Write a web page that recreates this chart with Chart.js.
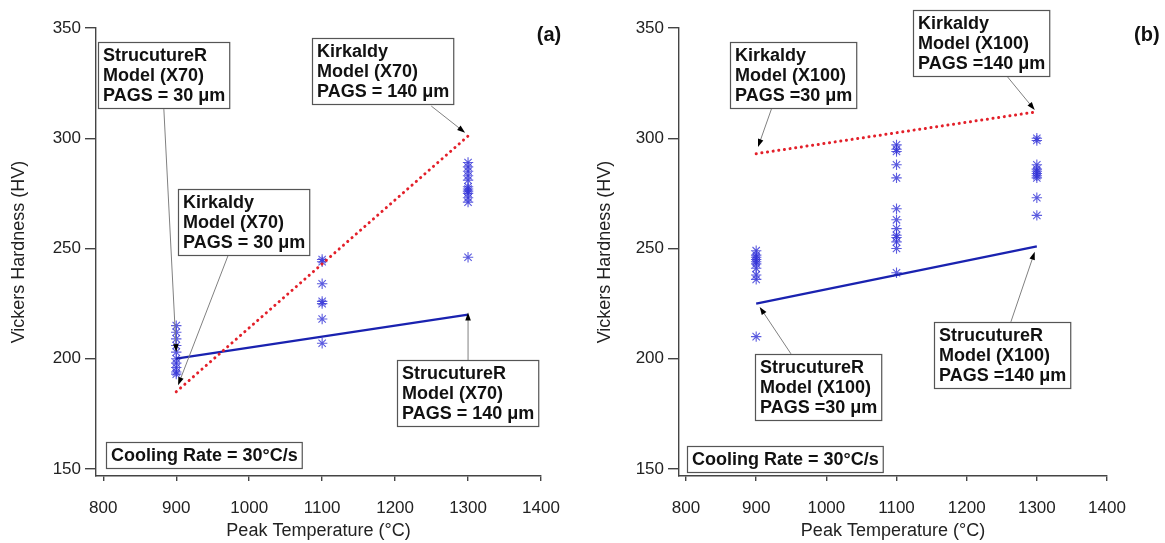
<!DOCTYPE html>
<html>
<head>
<meta charset="utf-8">
<script src="https://cdn.jsdelivr.net/npm/chart.js@4"></script>
<style>
  html, body { margin: 0; padding: 0; background: #fff; }
  .panel { position: absolute; top: 0; height: 543px; }
  #panelA { left: 0; width: 582px; }
  #panelB { left: 582px; width: 583px; }
</style>
</head>
<body>
<div class="panel" id="panelA"><canvas id="chartA"></canvas></div>
<div class="panel" id="panelB"><canvas id="chartB"></canvas></div>
<script>
// measured hardness, one array per peak temperature
const peakTemps = [900, 1100, 1300];
const x70At900 = [215, 212, 209, 206, 203, 200, 198, 196, 194, 193];
const x70At1100 = [245, 244, 234, 226, 225, 218, 207];
const x70At1300 = [289, 287, 285, 283, 281, 278, 277, 276, 275, 273, 271, 246];
const x100At900 = [249, 247, 246, 245, 244, 243, 241, 238, 236, 210];
const x100At1100 = [297, 295, 294, 288, 282, 268, 263, 259, 256, 255, 253, 250, 239];
const x100At1300 = [300, 299, 288, 286, 285, 284, 283, 282, 273, 265];

// model predictions at the two grain sizes
const modelTemps = [900, 1300];
const kirkaldyX70 = [185, 301];
const structureRX70 = [200, 220];
const kirkaldyX100 = [293, 312];
const structureRX100 = [225, 251];

const xTicks = [800, 900, 1000, 1100, 1200, 1300, 1400];
const yTicks = [150, 200, 250, 300, 350];

const FONT = '"Liberation Sans", Arial, sans-serif';

function points(temps, values) {
  return values.map((v, i) => ({ x: temps[i], y: v }));
}
function measured(groups) {
  const pts = [];
  groups.forEach((vals, i) => vals.forEach(v => pts.push({ x: peakTemps[i], y: v })));
  return pts;
}

// text boxes with leader arrows, anchored in data units
const notesA = [
  { lines: ['StrucutureR', 'Model (X70)', 'PAGS = 30 μm'], box: [793, 343.6], from: [883, 313.2], to: [900, 203] },
  { lines: ['Kirkaldy', 'Model (X70)', 'PAGS = 140 μm'], box: [1085.6, 345.5], from: [1249.6, 314.6], to: [1296, 302.5] },
  { lines: ['Kirkaldy', 'Model (X70)', 'PAGS = 30 μm'], box: [902.5, 277], from: [970.8, 246.6], to: [902.5, 188] },
  { lines: ['StrucutureR', 'Model (X70)', 'PAGS = 140 μm'], box: [1203, 199.4], from: [1300, 199.4], to: [1300, 221] },
  { lines: ['Cooling Rate = 30°C/s'], box: [804, 162.2] }
];
const notesB = [
  { lines: ['Kirkaldy', 'Model (X100)', 'PAGS =30 μm'], box: [862.7, 343.6], from: [926.8, 317.8], to: [902.6, 296] },
  { lines: ['Kirkaldy', 'Model (X100)', 'PAGS =140 μm'], box: [1123.4, 358.2], from: [1257.3, 328.2], to: [1297, 312.8] },
  { lines: ['StrucutureR', 'Model (X100)', 'PAGS =30 μm'], box: [898.3, 202.2], from: [949.6, 202.2], to: [905, 223.5] },
  { lines: ['StrucutureR', 'Model (X100)', 'PAGS =140 μm'], box: [1153.3, 216.7], from: [1263, 216.7], to: [1297, 248.5] },
  { lines: ['Cooling Rate = 30°C/s'], box: [801.4, 160.4] }
];

const notesPlugin = {
  id: 'notes',
  afterDraw(chart, args, opts) {
    const { ctx, scales: { x, y } } = chart;
    ctx.save();
    ctx.font = 'bold 18px ' + FONT;
    opts.items.forEach(n => {
      if (n.to) {
        const x0 = x.getPixelForValue(n.from[0]), y0 = y.getPixelForValue(n.from[1]);
        const x1 = x.getPixelForValue(n.to[0]), y1 = y.getPixelForValue(n.to[1]);
        const ang = Math.atan2(y1 - y0, x1 - x0);
        ctx.strokeStyle = '#808080';
        ctx.lineWidth = 1;
        ctx.beginPath();
        ctx.moveTo(x0, y0);
        ctx.lineTo(x1 - 6 * Math.cos(ang), y1 - 6 * Math.sin(ang));
        ctx.stroke();
        ctx.fillStyle = '#000';
        ctx.beginPath();
        ctx.moveTo(x1, y1);
        ctx.lineTo(x1 - 8 * Math.cos(ang) + 2.8 * Math.sin(ang), y1 - 8 * Math.sin(ang) - 2.8 * Math.cos(ang));
        ctx.lineTo(x1 - 8 * Math.cos(ang) - 2.8 * Math.sin(ang), y1 - 8 * Math.sin(ang) + 2.8 * Math.cos(ang));
        ctx.closePath();
        ctx.fill();
      }
      const bx = Math.round(x.getPixelForValue(n.box[0])) + 0.5;
      const by = Math.round(y.getPixelForValue(n.box[1])) + 0.5;
      const w = Math.max(...n.lines.map(l => ctx.measureText(l).width)) + 9;
      const h = n.lines.length * 20 + 6;
      ctx.fillStyle = '#fff';
      ctx.fillRect(bx, by, w, h);
      ctx.strokeStyle = '#555';
      ctx.lineWidth = 1.2;
      ctx.strokeRect(bx, by, w, h);
      ctx.fillStyle = '#111';
      ctx.textBaseline = 'alphabetic';
      n.lines.forEach((l, i) => ctx.fillText(l, bx + 4.5, by + 18.5 + i * 20));
    });
    // panel letter
    ctx.font = 'bold 20px ' + FONT;
    ctx.textAlign = 'center';
    ctx.textBaseline = 'middle';
    ctx.fillStyle = '#111';
    ctx.fillText(opts.tag.text, x.getPixelForValue(opts.tag.at[0]), y.getPixelForValue(opts.tag.at[1]));
    ctx.restore();
  }
};

function makePanel(id, pts, kirk, strucR, notes, tag, pad, yWidth, yTitlePad) {
  const ctx = document.getElementById(id).getContext('2d');
  return new Chart(ctx, {
    type: 'scatter',
    data: {
      datasets: [
        {
          label: 'Kirkaldy',
          type: 'line',
          data: points(modelTemps, kirk),
          borderColor: '#e3202a',
          borderWidth: 3,
          borderDash: [0.1, 5.6],
          borderCapStyle: 'round',
          pointRadius: 0,
          fill: false
        },
        {
          label: 'StrucutureR',
          type: 'line',
          data: points(modelTemps, strucR),
          borderColor: '#1a22b0',
          borderWidth: 2.3,
          pointRadius: 0,
          fill: false
        },
        {
          label: 'Measured',
          data: pts,
          pointStyle: 'star',
          pointRadius: 5.2,
          borderWidth: 1.1,
          borderColor: 'rgba(50, 50, 215, 0.8)',
          backgroundColor: 'rgba(50, 50, 215, 0.8)'
        }
      ]
    },
    options: {
      responsive: true,
      maintainAspectRatio: false,
      animation: false,
      layout: { padding: pad },
      plugins: {
        legend: { display: false },
        tooltip: { enabled: false },
        notes: { items: notes, tag: tag }
      },
      scales: {
        x: {
          type: 'linear',
          min: 790,
          max: 1400,
          afterBuildTicks: axis => { axis.ticks = xTicks.map(v => ({ value: v })); },
          afterFit: scale => { scale.height = 67; },
          border: { display: true, color: '#444', width: 1.4 },
          grid: { drawOnChartArea: false, drawTicks: true, tickLength: 5, color: '#444', lineWidth: 1.4 },
          ticks: { color: '#222', font: { family: FONT, size: 17 }, padding: 17, maxRotation: 0, callback: v => String(v) },
          title: { display: true, text: 'Peak Temperature (°C)', color: '#222', font: { family: FONT, size: 18 }, padding: { top: 0, bottom: 1 } }
        },
        y: {
          type: 'linear',
          min: 146.8,
          max: 350,
          afterBuildTicks: axis => { axis.ticks = yTicks.map(v => ({ value: v })); },
          afterFit: scale => { scale.width = yWidth; },
          border: { display: true, color: '#444', width: 1.4 },
          grid: { drawOnChartArea: false, drawTicks: true, tickLength: 11, color: '#444', lineWidth: 1.4 },
          ticks: { color: '#222', font: { family: FONT, size: 17 }, padding: 4, callback: v => String(v) },
          title: { display: true, text: 'Vickers Hardness (HV)', color: '#222', font: { family: FONT, size: 18 }, padding: { top: yTitlePad, bottom: 0 } }
        }
      }
    },
    plugins: [notesPlugin]
  });
}

makePanel('chartA', measured([x70At900, x70At1100, x70At1300]), kirkaldyX70, structureRX70, notesA,
  { text: '(a)', at: [1411, 346.8] }, { left: 0, top: 28, right: 41, bottom: 0 }, 96, 8);
makePanel('chartB', measured([x100At900, x100At1100, x100At1300]), kirkaldyX100, structureRX100, notesB,
  { text: '(b)', at: [1456.7, 346.8] }, { left: 0, top: 28, right: 58, bottom: 0 }, 97, 12);
</script>
</body>
</html>
